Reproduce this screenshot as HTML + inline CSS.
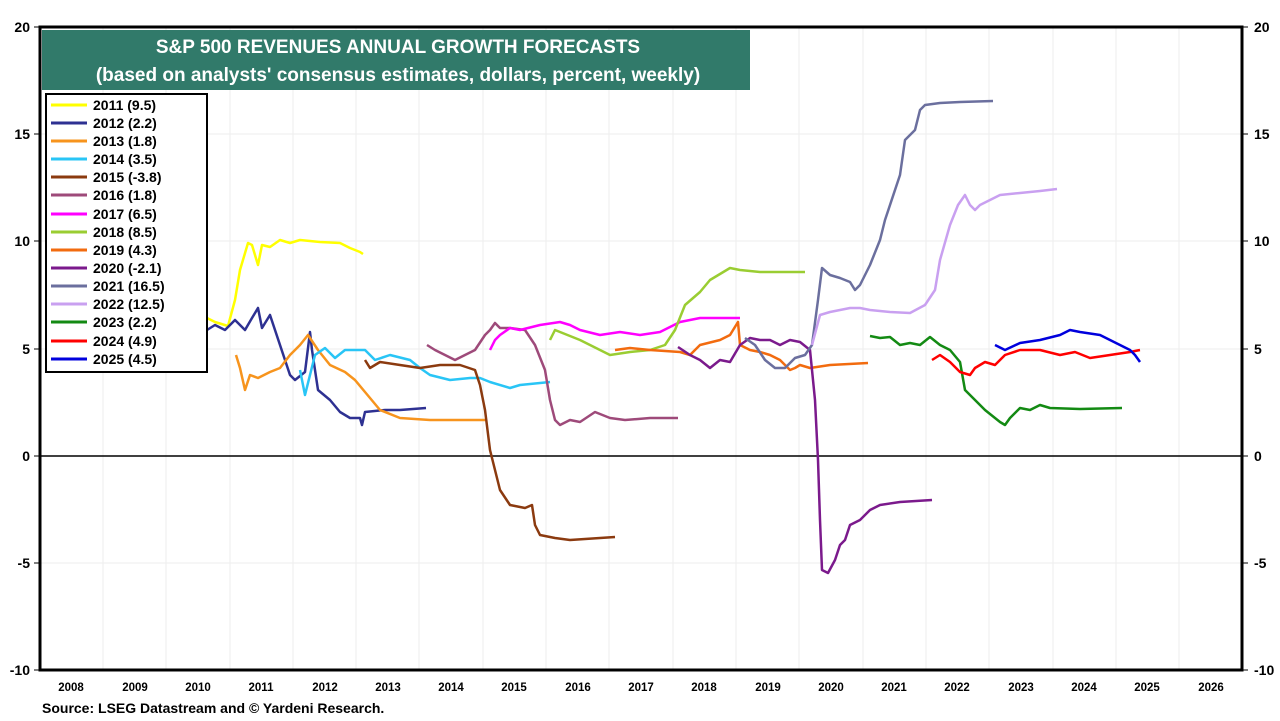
<!DOCTYPE html>
<html><head><style>
body{margin:0;background:#fff;font-family:"Liberation Sans",Arial,sans-serif;}
</style></head><body>
<svg width="1280" height="716" xmlns="http://www.w3.org/2000/svg" font-family="Liberation Sans, Arial, sans-serif">
<rect width="1280" height="716" fill="#fff"/>
<g stroke="#eeeeee" stroke-width="1">
<line x1="40" x2="1242" y1="134" y2="134"/><line x1="40" x2="1242" y1="241" y2="241"/><line x1="40" x2="1242" y1="349" y2="349"/><line x1="40" x2="1242" y1="563" y2="563"/>
<line x1="103" x2="103" y1="27" y2="670"/><line x1="166" x2="166" y1="27" y2="670"/><line x1="230" x2="230" y1="27" y2="670"/><line x1="293" x2="293" y1="27" y2="670"/><line x1="356" x2="356" y1="27" y2="670"/><line x1="419" x2="419" y1="27" y2="670"/><line x1="483" x2="483" y1="27" y2="670"/><line x1="546" x2="546" y1="27" y2="670"/><line x1="609" x2="609" y1="27" y2="670"/><line x1="673" x2="673" y1="27" y2="670"/><line x1="736" x2="736" y1="27" y2="670"/><line x1="799" x2="799" y1="27" y2="670"/><line x1="863" x2="863" y1="27" y2="670"/><line x1="926" x2="926" y1="27" y2="670"/><line x1="989" x2="989" y1="27" y2="670"/><line x1="1053" x2="1053" y1="27" y2="670"/><line x1="1116" x2="1116" y1="27" y2="670"/><line x1="1179" x2="1179" y1="27" y2="670"/>
</g>
<line x1="40" x2="1242" y1="456" y2="456" stroke="#000" stroke-width="1.5"/>
<g fill="none" stroke-width="2.5" stroke-linejoin="round">
<polyline stroke="#ffff00" points="207,318 215,322 228,326 235,300 240,270 248,243 252,245 258,265 262,245 270,247 280,240 290,243 300,240 320,242 340,243 350,248 360,252 363,254"/>
<polyline stroke="#2e3192" points="207,330 215,325 225,330 235,320 245,330 252,318 258,308 262,328 270,315 275,330 280,345 290,375 295,380 305,372 310,332 312,350 318,390 330,400 340,412 350,418 360,418 362,425 365,412 385,410 400,410 426,408"/>
<polyline stroke="#f7941d" points="236,355 240,368 245,390 250,375 258,378 270,372 280,368 290,355 300,345 308,335 318,350 330,365 345,372 355,380 365,392 380,410 400,418 430,420 485,420"/>
<polyline stroke="#29c5f6" points="300,370 305,395 315,355 325,348 335,358 345,350 365,350 375,360 390,355 410,360 420,368 430,375 450,380 470,378 480,378 490,382 510,388 520,385 550,382"/>
<polyline stroke="#8b3a0f" points="365,360 370,368 380,362 400,365 420,368 440,365 460,365 475,370 480,385 485,410 490,450 495,470 500,490 510,505 525,508 532,505 535,525 540,535 555,538 570,540 615,537"/>
<polyline stroke="#9e4a7a" points="427,345 435,350 445,355 455,360 465,355 475,350 485,335 490,330 495,323 500,328 510,328 525,330 535,345 545,370 550,400 555,420 560,425 570,420 580,422 595,412 610,418 625,420 650,418 678,418"/>
<polyline stroke="#ff00ff" points="490,350 495,340 500,335 510,328 520,330 540,325 560,322 570,325 580,330 600,335 620,332 640,335 660,332 680,322 700,318 720,318 740,318"/>
<polyline stroke="#9acd32" points="550,340 555,330 560,332 580,340 590,345 600,350 610,355 630,352 650,350 665,345 675,330 685,305 700,292 710,280 730,268 740,270 760,272 805,272"/>
<polyline stroke="#f26b0f" points="615,350 630,348 650,350 680,352 690,355 700,345 720,340 730,335 738,322 740,345 750,350 760,352 770,355 780,360 790,370 795,368 800,365 810,368 830,365 868,363"/>
<polyline stroke="#7b1a8c" points="678,347 690,355 700,360 710,368 720,360 730,362 740,345 750,338 760,340 770,340 780,345 790,340 800,342 810,350 815,400 818,460 820,520 822,570 828,573 835,560 840,545 845,540 850,525 860,520 870,510 880,505 900,502 932,500"/>
<polyline stroke="#6b6f9e" points="745,338 755,345 765,360 775,368 785,368 795,358 805,355 812,345 818,300 822,268 830,275 840,278 850,282 855,290 860,285 870,265 880,240 885,220 890,205 900,175 905,140 915,130 920,110 925,105 940,103 960,102 993,101"/>
<polyline stroke="#c9a0f0" points="812,345 820,315 830,312 840,310 850,308 860,308 870,310 890,312 910,313 925,305 935,290 940,260 950,225 958,205 965,195 970,205 975,210 980,205 990,200 1000,195 1020,193 1040,191 1057,189"/>
<polyline stroke="#138a13" points="870,336 880,338 890,337 900,345 910,343 920,345 930,337 940,345 950,350 960,362 965,390 975,400 985,410 995,418 1000,422 1005,425 1010,418 1020,408 1030,410 1040,405 1050,408 1080,409 1122,408"/>
<polyline stroke="#ff0000" points="932,360 940,355 950,362 960,372 970,375 975,368 985,362 995,365 1005,355 1020,350 1040,350 1060,355 1075,352 1090,358 1110,355 1130,352 1140,350"/>
<polyline stroke="#0000dd" points="995,345 1005,350 1020,343 1040,340 1060,335 1070,330 1080,332 1100,335 1110,340 1120,345 1130,350 1135,355 1140,362"/>
</g>
<rect x="40" y="27" width="1202" height="643" fill="none" stroke="#000" stroke-width="3"/>
<g stroke="#000" stroke-width="1">
<line x1="34" x2="40" y1="27" y2="27"/><line x1="34" x2="40" y1="134" y2="134"/><line x1="34" x2="40" y1="241" y2="241"/><line x1="34" x2="40" y1="349" y2="349"/><line x1="34" x2="40" y1="456" y2="456"/><line x1="34" x2="40" y1="563" y2="563"/><line x1="34" x2="40" y1="670" y2="670"/>
<line x1="1242" x2="1248" y1="27" y2="27"/><line x1="1242" x2="1248" y1="134" y2="134"/><line x1="1242" x2="1248" y1="241" y2="241"/><line x1="1242" x2="1248" y1="349" y2="349"/><line x1="1242" x2="1248" y1="456" y2="456"/><line x1="1242" x2="1248" y1="563" y2="563"/><line x1="1242" x2="1248" y1="670" y2="670"/>
</g>
<g font-size="14" font-weight="bold" fill="#000">
<text x="30" y="32" text-anchor="end">20</text><text x="30" y="139" text-anchor="end">15</text><text x="30" y="246" text-anchor="end">10</text><text x="30" y="354" text-anchor="end">5</text><text x="30" y="461" text-anchor="end">0</text><text x="30" y="568" text-anchor="end">-5</text><text x="30" y="675" text-anchor="end">-10</text>
<text x="1254" y="32">20</text><text x="1254" y="139">15</text><text x="1254" y="246">10</text><text x="1254" y="354">5</text><text x="1254" y="461">0</text><text x="1254" y="568">-5</text><text x="1254" y="675">-10</text>
</g>
<g font-size="11.5" font-weight="bold" fill="#000" text-anchor="middle">
<text x="71" y="691">2008</text><text x="135" y="691">2009</text><text x="198" y="691">2010</text><text x="261" y="691">2011</text><text x="325" y="691">2012</text><text x="388" y="691">2013</text><text x="451" y="691">2014</text><text x="514" y="691">2015</text><text x="578" y="691">2016</text><text x="641" y="691">2017</text><text x="704" y="691">2018</text><text x="768" y="691">2019</text><text x="831" y="691">2020</text><text x="894" y="691">2021</text><text x="957" y="691">2022</text><text x="1021" y="691">2023</text><text x="1084" y="691">2024</text><text x="1147" y="691">2025</text><text x="1211" y="691">2026</text>
</g>
<rect x="42" y="30" width="708" height="60" fill="#317a6a"/>
<g fill="#fff" font-weight="bold" font-size="19" text-anchor="middle">
<text x="398" y="53">S&amp;P 500 REVENUES ANNUAL GROWTH FORECASTS</text>
<text x="398" y="81">(based on analysts' consensus estimates, dollars, percent, weekly)</text>
</g>
<rect x="46" y="94" width="161" height="278" fill="#fff" stroke="#000" stroke-width="2"/>
<g stroke-width="3">
<line x1="51" x2="87" y1="105" y2="105" stroke="#ffff00"/>
<line x1="51" x2="87" y1="123" y2="123" stroke="#2e3192"/>
<line x1="51" x2="87" y1="141" y2="141" stroke="#f7941d"/>
<line x1="51" x2="87" y1="159" y2="159" stroke="#29c5f6"/>
<line x1="51" x2="87" y1="177" y2="177" stroke="#8b3a0f"/>
<line x1="51" x2="87" y1="195" y2="195" stroke="#9e4a7a"/>
<line x1="51" x2="87" y1="214" y2="214" stroke="#ff00ff"/>
<line x1="51" x2="87" y1="232" y2="232" stroke="#9acd32"/>
<line x1="51" x2="87" y1="250" y2="250" stroke="#f26b0f"/>
<line x1="51" x2="87" y1="268" y2="268" stroke="#7b1a8c"/>
<line x1="51" x2="87" y1="286" y2="286" stroke="#6b6f9e"/>
<line x1="51" x2="87" y1="304" y2="304" stroke="#c9a0f0"/>
<line x1="51" x2="87" y1="322" y2="322" stroke="#138a13"/>
<line x1="51" x2="87" y1="341" y2="341" stroke="#ff0000"/>
<line x1="51" x2="87" y1="359" y2="359" stroke="#0000dd"/>
</g>
<g font-size="14" font-weight="bold" fill="#000">
<text x="93" y="110">2011 (9.5)</text><text x="93" y="128">2012 (2.2)</text><text x="93" y="146">2013 (1.8)</text><text x="93" y="164">2014 (3.5)</text><text x="93" y="182">2015 (-3.8)</text><text x="93" y="200">2016 (1.8)</text><text x="93" y="219">2017 (6.5)</text><text x="93" y="237">2018 (8.5)</text><text x="93" y="255">2019 (4.3)</text><text x="93" y="273">2020 (-2.1)</text><text x="93" y="291">2021 (16.5)</text><text x="93" y="309">2022 (12.5)</text><text x="93" y="327">2023 (2.2)</text><text x="93" y="346">2024 (4.9)</text><text x="93" y="364">2025 (4.5)</text>
</g>
<text x="42" y="713" font-size="14" font-weight="bold" fill="#000">Source: LSEG Datastream and © Yardeni Research.</text>
</svg>
</body></html>
